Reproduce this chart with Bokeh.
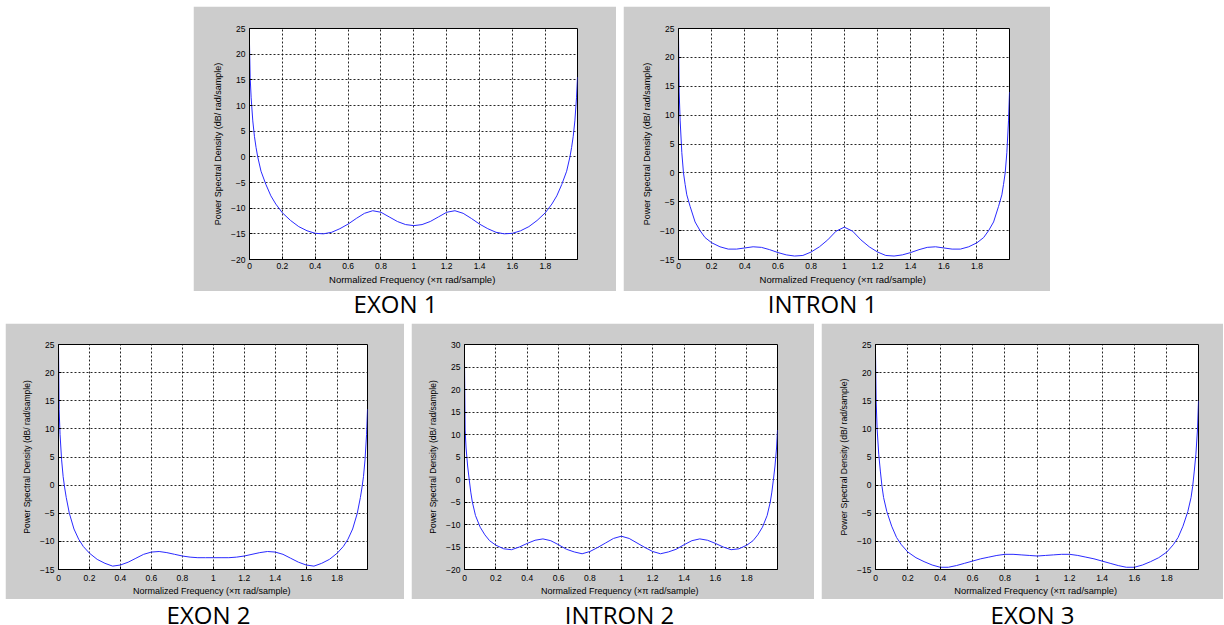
from bokeh.plotting import figure
from bokeh.models import FixedTicker, Label, Range1d, Spacer
from bokeh.layouts import row, column
from bokeh.embed import file_html
from bokeh.resources import INLINE

# ---------------- data ----------------
freq = [0, 0.004, 0.01, 0.02, 0.03, 0.04, 0.05, 0.07, 0.1, 0.13, 0.16, 0.2, 0.25, 0.3,
        0.35, 0.4, 0.45, 0.5, 0.55, 0.6, 0.65, 0.7, 0.75, 0.8, 0.85, 0.9, 0.95, 1.0,
        1.05, 1.1, 1.15, 1.2, 1.25, 1.3, 1.35, 1.4, 1.45, 1.5, 1.55, 1.6, 1.65, 1.7,
        1.75, 1.8, 1.84, 1.87, 1.9, 1.93, 1.95, 1.96, 1.97, 1.98, 1.99, 1.996]

exon1 = [22, 15.5, 11.5, 7, 4, 1.8, 0, -2.8, -5.4, -7.6, -9.2, -10.9, -12.4, -13.6,
         -14.4, -14.9, -15.0, -14.7, -14.0, -13.1, -12.0, -11.0, -10.5, -10.8, -11.7, -12.6, -13.2, -13.4,
         -13.2, -12.6, -11.7, -10.8, -10.5, -11.0, -12.0, -13.1, -14.0, -14.7, -15.0, -14.9, -14.4, -13.6,
         -12.4, -10.9, -9.2, -7.6, -5.4, -2.8, 0, 1.8, 4, 7, 11.5, 15.5]

intron1 = [24, 14, 9, 3.5, 0, -2.0, -3.8, -5.8, -8.5, -10.0, -11.2, -12.1, -12.8, -13.2,
           -13.2, -13.0, -12.8, -12.9, -13.3, -13.8, -14.2, -14.4, -14.3, -13.7, -12.8, -11.6, -10.1, -9.4,
           -10.1, -11.6, -12.8, -13.7, -14.3, -14.4, -14.2, -13.8, -13.3, -12.9, -12.8, -13.0, -13.2, -13.2,
           -12.8, -12.1, -11.2, -10.0, -8.5, -5.8, -3.8, -2.0, 0, 3.5, 9, 14]

exon2 = [25, 13.5, 9, 4.5, 1.5, -0.5, -2.2, -5, -7.8, -9.6, -10.9, -12.1, -13.2, -13.9,
         -14.4, -14.2, -13.7, -13.0, -12.3, -11.9, -11.8, -12.0, -12.3, -12.6, -12.8, -12.9, -12.9, -12.9,
         -12.9, -12.9, -12.8, -12.6, -12.3, -12.0, -11.8, -11.9, -12.3, -13.0, -13.7, -14.2, -14.4, -13.9,
         -13.2, -12.1, -10.9, -9.6, -7.8, -5, -2.2, -0.5, 1.5, 4.5, 9, 13.5]

intron2 = [26, 11, 7, 3, 0, -2.8, -5, -8, -10.6, -12.3, -13.6, -14.6, -15.4, -15.6,
           -15.0, -14.2, -13.5, -13.2, -13.6, -14.5, -15.5, -16.1, -16.5, -16.0, -15.1, -14.1, -13.1, -12.6,
           -13.1, -14.1, -15.1, -16.0, -16.5, -16.1, -15.5, -14.5, -13.6, -13.2, -13.5, -14.2, -15.0, -15.6,
           -15.4, -14.6, -13.6, -12.3, -10.6, -8, -5, -2.8, 0, 3, 7, 11]

exon3 = [23.5, 15, 10, 5.5, 2.5, -0.2, -2.2, -4.7, -7.3, -9.3, -10.6, -11.9, -12.9, -13.6,
         -14.2, -14.6, -14.6, -14.3, -13.9, -13.5, -13.1, -12.8, -12.5, -12.3, -12.3, -12.4, -12.5, -12.6,
         -12.5, -12.4, -12.3, -12.3, -12.5, -12.8, -13.1, -13.5, -13.9, -14.3, -14.6, -14.6, -14.2, -13.6,
         -12.9, -11.9, -10.6, -9.3, -7.3, -4.7, -2.2, -0.2, 2.5, 5.5, 10, 15]

x_ticks = [0, 0.2, 0.4, 0.6, 0.8, 1.0, 1.2, 1.4, 1.6, 1.8]
x_tick_labels = ["0", "0.2", "0.4", "0.6", "0.8", "1", "1.2", "1.4", "1.6", "1.8"]
x_max = 1.996
captions = ["EXON 1", "INTRON 1", "EXON 2", "INTRON 2", "EXON 3"]
y_limits = [(-20, 25), (-15, 25), (-15, 25), (-20, 30), (-15, 25)]
x_label = "Normalized Frequency  (\u00d7\u03c0 rad/sample)"
y_label = "Power Spectral Density (dB/ rad/sample)"

GREY = "#cccccc"
FONT = "Liberation Sans"


def panel(values, ylim, w, h, bl, br, bt, bb, tick_fs, xl_fs, yl_fs, x_standoff):
    p = figure(width=w, height=h, output_backend="svg", toolbar_location=None, tools="",
               x_range=Range1d(0, x_max), y_range=Range1d(*ylim),
               min_border_left=bl, min_border_right=br, min_border_top=bt, min_border_bottom=bb,
               background_fill_color="white", border_fill_color=GREY,
               outline_line_color="black", outline_line_width=1)
    p.line(freq, values, line_color="#2a2aff", line_width=1)

    p.xaxis.ticker = FixedTicker(ticks=x_ticks)
    p.xaxis.major_label_overrides = {t: l for t, l in zip(x_ticks, x_tick_labels)}
    p.yaxis.ticker = FixedTicker(ticks=list(range(ylim[0], ylim[1] + 1, 5)))

    for ax in (p.xaxis[0], p.yaxis[0]):
        ax.major_tick_in = 3
        ax.major_tick_out = 0
        ax.minor_tick_line_color = None
        ax.axis_line_color = "black"
        ax.major_tick_line_color = "black"
        ax.major_label_text_font = FONT
        ax.major_label_text_font_size = tick_fs
        ax.major_label_text_color = "black"
        ax.axis_label_text_font = FONT
        ax.axis_label_text_font_style = "normal"
        ax.axis_label_text_color = "black"

    p.xaxis.axis_label = x_label
    p.xaxis.axis_label_text_font_size = xl_fs
    p.xaxis.major_label_standoff = x_standoff
    p.xaxis.axis_label_standoff = 2
    p.yaxis.axis_label = y_label
    p.yaxis.axis_label_text_font_size = yl_fs
    p.yaxis.major_label_standoff = 4
    p.yaxis.axis_label_standoff = 5

    p.grid.grid_line_color = "black"
    p.grid.grid_line_dash = "2 2"
    p.grid.grid_line_alpha = 0.85
    p.grid.grid_line_width = 1
    return p


def caption_strip(h, items, center_y, margin):
    # transparent strip, allowed to overlap its neighbours so the text box is not clipped
    c = figure(width=1218, height=h, output_backend="svg", toolbar_location=None, tools="",
               x_range=Range1d(0, 1218), y_range=Range1d(0, h), min_border=0,
               x_axis_location=None, y_axis_location=None,
               border_fill_alpha=0, background_fill_alpha=0,
               outline_line_color=None, margin=margin)
    c.grid.visible = False
    for text, xc in items:
        c.add_layout(Label(x=xc, y=center_y, text=text, text_align="center",
                           text_baseline="middle", text_font="Open Sans",
                           text_font_size="24px", text_color="black"))
    return c


p1 = panel(exon1, y_limits[0], 423, 285, 56, 39, 22, 31, "8.5px", "9.5px", "9px", 3)
p2 = panel(intron1, y_limits[1], 427, 285, 55, 41, 22, 32, "8.5px", "9.5px", "9px", 3)
p3 = panel(exon2, y_limits[2], 399, 276, 53, 37, 21, 30, "8.5px", "9px", "8.5px", 5)
p4 = panel(intron2, y_limits[3], 403, 276, 53, 37, 19, 30, "8.5px", "9px", "8.5px", 5)
p5 = panel(exon3, y_limits[4], 402, 276, 54, 25, 19, 30, "8.5px", "9.3px", "8.7px", 5)

# top strip: laid out as 32px (291-323) but drawn 44px tall (285-329)
cap_top = caption_strip(44, [(captions[0], 390), (captions[1], 817)], 26, (-6, 0, -6, 0))
# bottom strip: laid out as 25px (599-624) but drawn 36px tall (589-625)
cap_bot = caption_strip(36, [(captions[2], 203), (captions[3], 614), (captions[4], 1027)], 11,
                        (-10, 0, -1, 0))

top = row(Spacer(width=188, height=285), p1, Spacer(width=7, height=285), p2)
bottom = row(p3, Spacer(width=7, height=276), p4, Spacer(width=7, height=276), p5)
layout = column(top, cap_top, bottom, cap_bot, margin=(6, 0, 0, 5))

open("out.html", "w").write(file_html(layout, INLINE))
